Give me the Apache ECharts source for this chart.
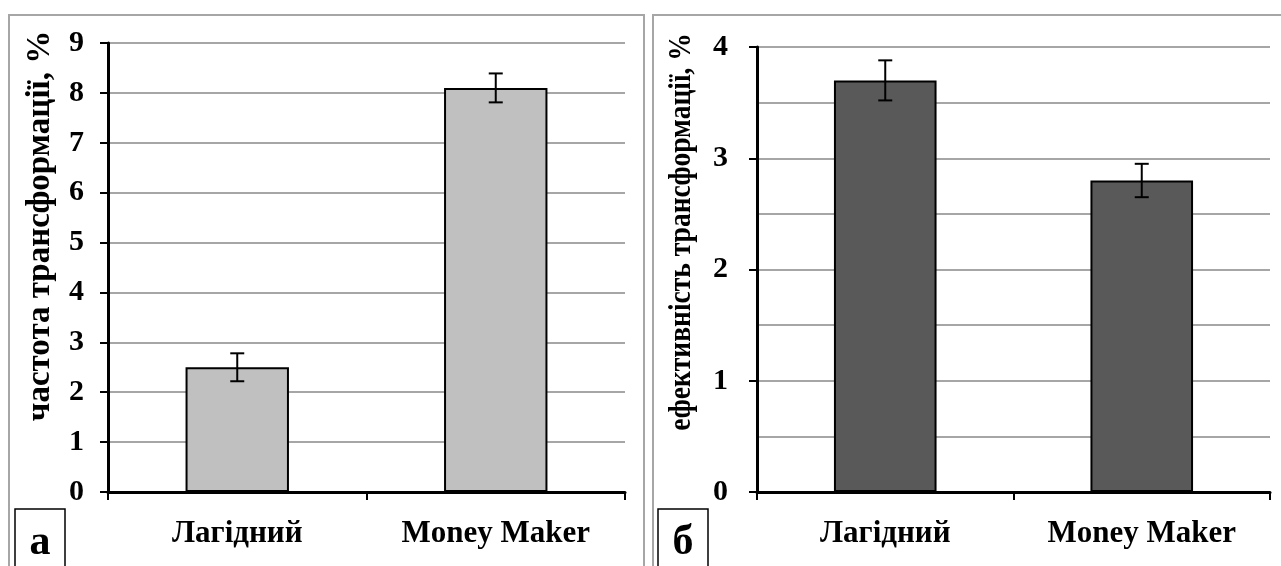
<!DOCTYPE html>
<html>
<head>
<meta charset="utf-8">
<script src="https://cdn.jsdelivr.net/npm/echarts@6/dist/echarts.min.js"></script>
<style>
  html, body { margin: 0; padding: 0; background: #fff; }
  #chart { width: 1281px; height: 566px; }
</style>
</head>
<body>
<div id="chart"></div>
<script>
// Cultivars compared
const categories = ['Лагідний', 'Money Maker'];

// Panel а: transformation frequency, %
const frequency = [2.5, 8.1];
const frequencyErr = [0.28, 0.29];
const frequencyTicks = { min: 0, max: 9, interval: 1 };

// Panel б: transformation efficiency, %
const efficiency = [3.7, 2.8];
const efficiencyErr = [0.18, 0.15];
const efficiencyTicks = { min: 0, max: 4, interval: 1 };

const titles = ['частота трансформації, %', 'ефективність трансформації, %'];
const panelLetters = ['а', 'б'];

const FONT = '"Liberation Serif", "Times New Roman", serif';

function errorData(values, errs) {
  return values.map((v, i) => [i, v - errs[i], v + errs[i]]);
}

function errorRenderer(params, api) {
  const x = api.value(0);
  const lo = api.coord([x, api.value(1)]);
  const hi = api.coord([x, api.value(2)]);
  const half = 7;
  const style = { stroke: '#000', lineWidth: 2 };
  return {
    type: 'group',
    children: [
      { type: 'line', shape: { x1: hi[0], y1: hi[1], x2: lo[0], y2: lo[1] }, style },
      { type: 'line', shape: { x1: hi[0] - half, y1: hi[1], x2: hi[0] + half, y2: hi[1] }, style },
      { type: 'line', shape: { x1: lo[0] - half, y1: lo[1], x2: lo[0] + half, y2: lo[1] }, style }
    ]
  };
}

function xAxis(gridIndex) {
  return {
    type: 'category',
    gridIndex,
    data: categories,
    axisLine: { show: true, lineStyle: { color: '#000', width: 3 } },
    axisTick: { show: true, length: 8, lineStyle: { color: '#000', width: 2 } },
    axisLabel: {
      margin: 26,
      color: '#000',
      fontFamily: FONT,
      fontWeight: 'bold',
      fontSize: 31
    },
    splitLine: { show: false }
  };
}

function yAxis(gridIndex, ticks, minor, margin) {
  return {
    type: 'value',
    gridIndex,
    min: ticks.min,
    max: ticks.max,
    interval: ticks.interval,
    axisLine: { show: true, lineStyle: { color: '#000', width: 3 } },
    axisTick: { show: true, length: 8, lineStyle: { color: '#000', width: 2 } },
    axisLabel: {
      margin,
      color: '#000',
      fontFamily: FONT,
      fontWeight: 'bold',
      fontSize: 30
    },
    splitLine: { show: true, lineStyle: { color: '#a6a6a6', width: 2 } },
    minorTick: { show: false, splitNumber: 2 },
    minorSplitLine: { show: minor, lineStyle: { color: '#a6a6a6', width: 2 } }
  };
}

const chart = echarts.init(document.getElementById('chart'), null, { renderer: 'canvas' });

chart.setOption({
  animation: false,
  backgroundColor: '#fff',
  grid: [
    { left: 108, right: 656, top: 43, bottom: 74 },
    { left: 757, right: 11, top: 47, bottom: 74 }
  ],
  xAxis: [xAxis(0), xAxis(1)],
  yAxis: [
    yAxis(0, frequencyTicks, false, 24),
    yAxis(1, efficiencyTicks, true, 29)
  ],
  series: [
    {
      type: 'bar',
      xAxisIndex: 0,
      yAxisIndex: 0,
      data: frequency,
      barWidth: '40%',
      itemStyle: { color: '#c0c0c0', borderColor: '#000', borderWidth: 2 },
      z: 2
    },
    {
      type: 'custom',
      xAxisIndex: 0,
      yAxisIndex: 0,
      data: errorData(frequency, frequencyErr),
      renderItem: errorRenderer,
      z: 3
    },
    {
      type: 'bar',
      xAxisIndex: 1,
      yAxisIndex: 1,
      data: efficiency,
      barWidth: '40%',
      itemStyle: { color: '#595959', borderColor: '#000', borderWidth: 2 },
      z: 2
    },
    {
      type: 'custom',
      xAxisIndex: 1,
      yAxisIndex: 1,
      data: errorData(efficiency, efficiencyErr),
      renderItem: errorRenderer,
      z: 3
    }
  ],
  graphic: [
    // panel frames
    { type: 'rect', shape: { x: 9, y: 15, width: 635, height: 620 },
      style: { fill: 'none', stroke: '#a6a6a6', lineWidth: 2 }, z: 0 },
    { type: 'rect', shape: { x: 653, y: 15, width: 700, height: 620 },
      style: { fill: 'none', stroke: '#a6a6a6', lineWidth: 2 }, z: 0 },
    // rotated axis titles (the longer one is condensed along its reading direction)
    { type: 'text', x: 40, y: 226, rotation: Math.PI / 2,
      style: { text: titles[0], fill: '#000', font: 'bold 33px ' + FONT,
               textAlign: 'center', textVerticalAlign: 'middle' } },
    { type: 'text', x: 682, y: 232, rotation: Math.PI / 2, scaleX: 0.86,
      style: { text: titles[1], fill: '#000', font: 'bold 32px ' + FONT,
               textAlign: 'center', textVerticalAlign: 'middle' } },
    // panel letters
    { type: 'rect', shape: { x: 15, y: 509, width: 50, height: 80 },
      style: { fill: '#fff', stroke: '#000', lineWidth: 1.5 } },
    { type: 'text', x: 40, y: 543,
      style: { text: panelLetters[0], fill: '#000', font: 'bold 42px ' + FONT,
               textAlign: 'center', textVerticalAlign: 'middle' } },
    { type: 'rect', shape: { x: 658, y: 509, width: 50, height: 80 },
      style: { fill: '#fff', stroke: '#000', lineWidth: 1.5 } },
    { type: 'text', x: 683, y: 543,
      style: { text: panelLetters[1], fill: '#000', font: 'bold 42px ' + FONT,
               textAlign: 'center', textVerticalAlign: 'middle' } }
  ]
});
</script>
</body>
</html>
